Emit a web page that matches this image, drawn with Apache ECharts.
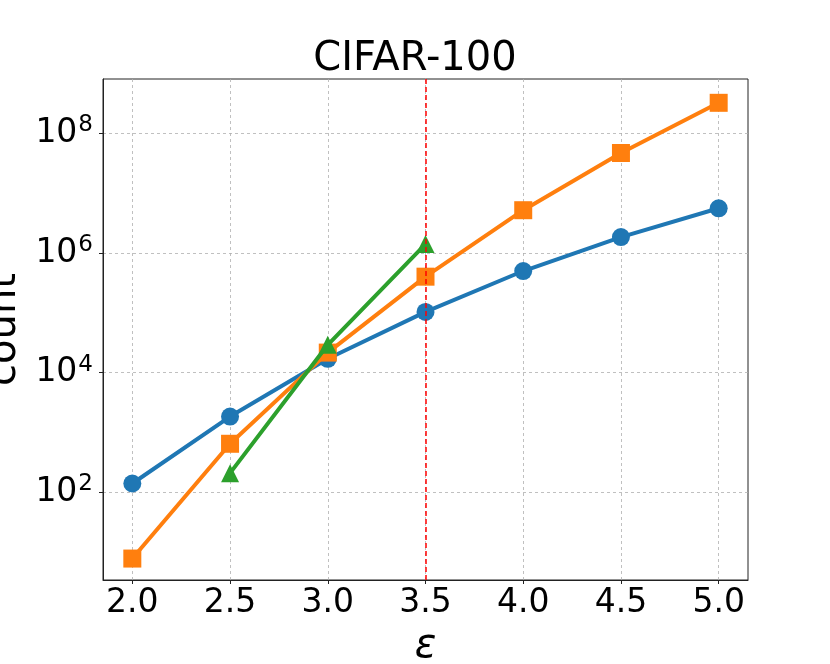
<!DOCTYPE html>
<html>
<head>
<meta charset="utf-8">
<script src="https://cdn.jsdelivr.net/npm/echarts@6/dist/echarts.min.js"></script>
<style>
  html, body { margin: 0; padding: 0; background: #fff; }
  #chart { width: 830px; height: 664px; }
</style>
</head>
<body>
<div id="chart"></div>
<script>
// epsilon values on the x axis
const epsAll = [2.0, 2.5, 3.0, 3.5, 4.0, 4.5, 5.0];
const epsGreen = [2.5, 3.0, 3.5];
// counts
const blueCounts = [141, 1850, 17100, 104000, 501000, 1850000, 5600000];
const orangeCounts = [7.85, 650, 21700, 403000, 5200000, 47000000, 324000000];
const greenCounts = [210, 29300, 1410000];
// tick labels
const xTicks = [2.0, 2.5, 3.0, 3.5, 4.0, 4.5, 5.0];
const yTicks = [1e2, 1e4, 1e6, 1e8];
const cutoff = 3.5;

const font = 'DejaVu Sans';
const zip = (xs, ys) => xs.map((x, i) => [x, ys[i]]);

const chart = echarts.init(document.getElementById('chart'));
chart.setOption({
  animation: false,
  textStyle: { fontFamily: font },
  title: {
    text: 'CIFAR-100',
    left: 'center',
    top: 35,
    textStyle: { fontFamily: font, fontSize: 40, fontWeight: 'normal', color: '#000' }
  },
  grid: {
    left: 103, right: 82, top: 79, bottom: 84,
    outerBoundsMode: 'none',
    containLabel: false,
    show: true, borderColor: '#222', borderWidth: 1
  },
  xAxis: {
    type: 'value',
    min: 1.85, max: 5.15,
    name: 'ε',
    nameLocation: 'middle',
    nameGap: 47,
    nameTextStyle: { fontFamily: font, fontSize: 40, fontStyle: 'italic', color: '#000' },
    axisLine: { show: true, onZero: false, lineStyle: { color: '#222', width: 1 } },
    axisTick: { show: true, length: 4, customValues: xTicks, lineStyle: { color: '#222' } },
    axisLabel: {
      customValues: xTicks,
      margin: 7,
      fontSize: 33, color: '#000', fontFamily: font,
      formatter: v => v.toFixed(1)
    },
    splitLine: { show: true, lineStyle: { color: '#b0b0b0', type: [3, 3], width: 0.8 } }
  },
  yAxis: {
    type: 'log',
    logBase: 10,
    min: 3.44, max: 8.1e8,
    name: 'count',
    nameLocation: 'middle',
    nameGap: 74,
    nameTextStyle: { fontFamily: font, fontSize: 40, color: '#000' },
    axisLine: { show: true, lineStyle: { color: '#222', width: 1 } },
    axisTick: { show: true, length: 4, customValues: yTicks, lineStyle: { color: '#222' } },
    axisLabel: {
      customValues: yTicks,
      margin: 10,
      color: '#000',
      formatter: v => '{b|10}{s|' + Math.round(Math.log10(v)) + '}',
      rich: {
        b: { fontSize: 33, fontFamily: font, color: '#000' },
        s: { fontSize: 23, fontFamily: font, color: '#000', padding: [0, 0, 16, 1] }
      }
    },
    splitLine: { show: true, lineStyle: { color: '#b0b0b0', type: [3, 3], width: 0.8 } },
    minorTick: { show: false },
    minorSplitLine: { show: false }
  },
  series: [
    {
      type: 'line',
      data: zip(epsAll, blueCounts),
      symbol: 'circle', symbolSize: 18,
      lineStyle: { color: '#1f77b4', width: 4 },
      itemStyle: { color: '#1f77b4' },
      z: 2
    },
    {
      type: 'line',
      data: zip(epsAll, orangeCounts),
      symbol: 'rect', symbolSize: 18,
      lineStyle: { color: '#ff7f0e', width: 4 },
      itemStyle: { color: '#ff7f0e' },
      z: 3
    },
    {
      type: 'line',
      data: zip(epsGreen, greenCounts),
      symbol: 'triangle', symbolSize: 18,
      lineStyle: { color: '#2ca02c', width: 4 },
      itemStyle: { color: '#2ca02c' },
      z: 4,
      markLine: {
        silent: true,
        symbol: 'none',
        label: { show: false },
        lineStyle: { color: '#ff0000', type: [5, 3], width: 1.5 },
        data: [{ xAxis: cutoff }]
      }
    }
  ]
});
</script>
</body>
</html>
